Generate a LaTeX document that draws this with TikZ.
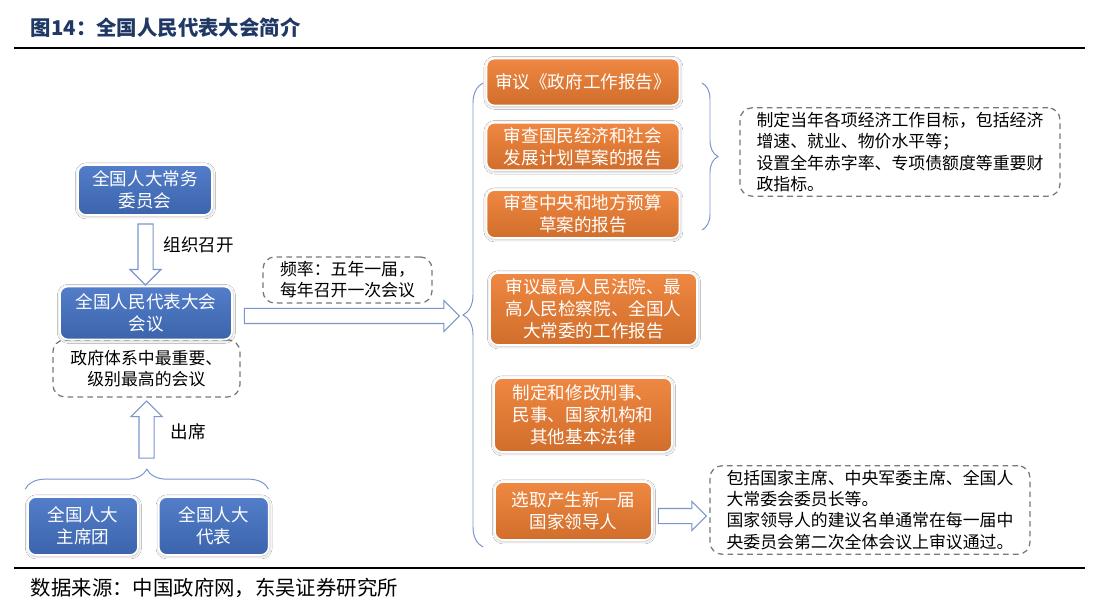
\documentclass[tikz,border=0pt]{standalone}
\usepackage{fontspec}
\setmainfont{Noto Sans CJK SC}
\usetikzlibrary{arrows.meta,positioning,shapes.arrows,calc,shadows.blur,decorations.pathreplacing}
\definecolor{titleblue}{RGB}{31,56,100}
\definecolor{boxblue}{RGB}{68,114,196}
\definecolor{boxorange}{RGB}{237,125,49}
\definecolor{linkblue}{RGB}{122,150,204}
\definecolor{notegray}{RGB}{120,120,120}

\begin{document}
\begin{tikzpicture}[font=\fontsize{12.5}{15.5}\selectfont,
bbox/.style={draw=white, line width=1.2pt, top color=boxblue!92!white, bottom color=boxblue!88!black, rounded corners=2mm, text=white, align=center, blur shadow={shadow blur steps=6, shadow xshift=0.3pt, shadow yshift=-0.6pt, shadow opacity=35}},
obox/.style={bbox, top color=boxorange!92!white, bottom color=boxorange!88!black},
note/.style={draw=notegray, dash pattern=on 4pt off 3pt, line width=0.9pt, rounded corners=3mm, align=center, font=\fontsize{12}{15}\selectfont},
harrow/.style={single arrow, draw=linkblue, fill=white, line width=0.8pt, inner sep=0.175cm, single arrow head extend=0.2cm, minimum height=#1},
brc/.style={draw=linkblue, line width=0.7pt, decorate, decoration={brace, amplitude=#1}}]
\path[fill=white] (0,0) rectangle (27.5,-15.075);
\useasboundingbox (0,0) rectangle (27.5,-15.075);
% title and rules
\node[anchor=west, text=titleblue, font=\fontsize{14.5}{16}\selectfont\bfseries] (title) at (0.65,-0.7) {图14：全国人民代表大会简介};
\draw[line width=1.2pt] (0.35,-1.2) -- (27.125,-1.2);
\draw[line width=1.2pt] (0.35,-14.2) -- (27.125,-14.2);
\node[anchor=west, font=\fontsize{14.5}{16}\selectfont] (src) at (0.65,-14.7) {数据来源：中国政府网，东吴证券研究所};
% left column
\node[note, minimum width=4.675cm, minimum height=1.425cm] (imp) at (3.66,-9.21) {政府体系中最重要、\\级别最高的会议};
\node[bbox, minimum width=3.35cm, minimum height=1.25cm] (ncs) at (3.625,-4.75) {全国人大常务\\委员会};
\node[bbox, minimum width=4.3cm, minimum height=1.325cm] (npc) at (3.65,-7.825) {全国人民代表大会\\会议};
\node[bbox, minimum width=2.75cm, minimum height=1.45cm] (pres) at (2.075,-13.15) {全国人大\\主席团};
\node[bbox, minimum width=2.75cm, minimum height=1.45cm, right=0.475cm of pres] (dep) {全国人大\\代表};
\node[harrow=1.525cm, rotate=-90] (a1) at ($(ncs.south)!0.5!(npc.north)$) {};
\node[anchor=west] (lbl1) at ($(a1.center)+(0.325,0.14)$) {组织召开};
\coordinate (bl) at ($(pres.north west)+(-0.05,0.175)$);
\coordinate (br) at ($(dep.north east)+(-0.025,0.175)$);
\draw[brc=0.5cm] (bl) -- (br);
\coordinate (btip) at ($(bl)!0.5!(br)+(0,0.5)$);
\node[harrow=1.425cm, rotate=90] (a2) at ($(btip)!0.5!(imp.south)$) {};
\node[anchor=west] (lbl2) at ($(a2.center)+(0.475,0.04)$) {出席};
% middle
\node[harrow=5.375cm, anchor=tail] (a3) at ($(npc.east)+(0.275,-0.075)$) {};
\node[note, minimum width=4.225cm, minimum height=1.1cm] (freq) at (8.6875,-7.0) {频率：五年一届，\\每年召开一次会议};
\coordinate (lb) at (12.075,-13.675);
\coordinate (lt) at (12.075,-2.075);
\draw[brc=0.5cm] (lb) -- (lt);
% right column
\node[obox, minimum width=4.825cm, minimum height=1.175cm] (rep1) at (14.575,-2.05) {审议《政府工作报告》};
\node[obox, minimum width=4.825cm, minimum height=1.175cm] (rep2) at (14.575,-3.6625) {审查国民经济和社会\\发展计划草案的报告};
\node[obox, minimum width=4.825cm, minimum height=1.2cm] (rep3) at (14.575,-5.35) {审查中央和地方预算\\草案的报告};
\node[obox, minimum width=5.175cm, minimum height=1.8cm] (rep4) at (14.8375,-7.725) {审议最高人民法院、最\\高人民检察院、全国人\\大常委的工作报告};
\node[obox, minimum width=4.45cm, minimum height=1.85cm] (law) at (14.575,-10.375) {制定和修改刑事、\\民事、国家机构和\\其他基本法律};
\node[obox, minimum width=3.925cm, minimum height=1.45cm] (elect) at (14.3375,-12.775) {选取产生新一届\\国家领导人};
\coordinate (rt) at (17.55,-2.075);
\coordinate (rb) at (17.55,-5.75);
\draw[brc=0.4cm] (rt) -- (rb);
\node[note, align=left, minimum width=8cm, minimum height=2.2cm] (goal) at (22.5,-3.8) {制定当年各项经济工作目标，包括经济\\增速、就业、物价水平等；\\设置全年赤字率、专项债额度等重要财\\政指标。};
\node[harrow=1.2cm, anchor=tail, single arrow head extend=0.175cm] (a4) at ($(elect.east)+(0.125,-0.125)$) {};
\node[note, align=left, minimum width=8cm, minimum height=2.15cm] (lead) at (21.75,-12.75) {包括国家主席、中央军委主席、全国人\\大常委会委员长等。\\国家领导人的建议名单通常在每一届中\\央委员会第二次全体会议上审议通过。};
\end{tikzpicture}
\end{document}
